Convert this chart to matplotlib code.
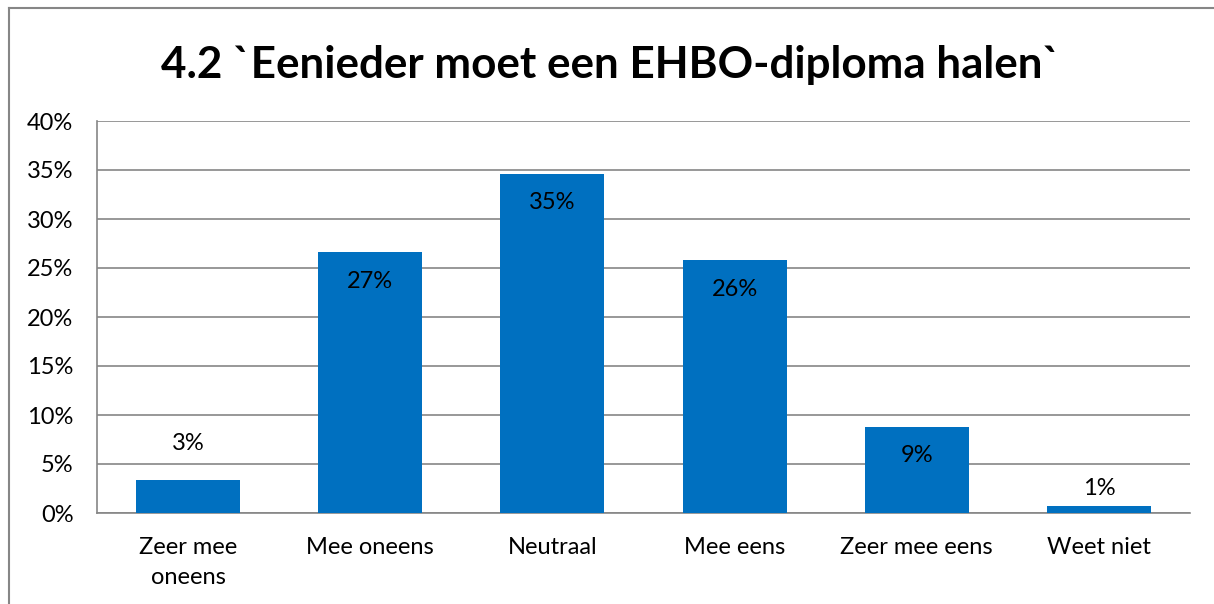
import matplotlib
matplotlib.use("Agg")
import matplotlib.pyplot as plt
from matplotlib.lines import Line2D
from matplotlib.ticker import PercentFormatter

categories = ["Zeer mee\noneens", "Mee oneens", "Neutraal", "Mee eens", "Zeer mee eens", "Weet niet"]
values = [3.4, 26.6, 34.6, 25.8, 8.8, 0.7]
labels = ["3%", "27%", "35%", "26%", "9%", "1%"]

plt.rcParams['font.family'] = ['Lato', 'DejaVu Sans']

fig = plt.figure(figsize=(12.14, 6.04), dpi=100)
ax = fig.add_axes([97/1214, 1 - 513/604, (1190 - 97)/1214, (513 - 121)/604])

grid_col = "#868686"
x = range(len(categories))
bars = ax.bar(x, values, width=0.57, color="#0070C0", zorder=3)

ax.set_ylim(0, 40)
ax.set_xlim(-0.5, len(categories) - 0.5)
ax.set_yticks(range(0, 41, 5))
ax.yaxis.set_major_formatter(PercentFormatter(decimals=0))
ax.grid(axis="y", color=grid_col, linewidth=1.2, zorder=0)
ax.set_xticks(list(x))
ax.set_xticklabels(categories, fontsize=17, linespacing=1.55)
ax.tick_params(axis="both", length=0, labelsize=17, colors="black")
ax.tick_params(axis="x", pad=17)
ax.tick_params(axis="y", pad=17)
for s in ["top", "right"]:
    ax.spines[s].set_visible(False)
for s in ["left", "bottom"]:
    ax.spines[s].set_color(grid_col)
    ax.spines[s].set_linewidth(1.2)

# data labels: inside end for large bars, above for small ones
for b, v, lab in zip(bars, values, labels):
    if v > 5:
        off = -29
    elif v > 2:
        off = 36
    else:
        off = 18
    ax.annotate(lab, (b.get_x() + b.get_width() / 2, v), xytext=(0, off * 0.72),
                textcoords="offset points", ha="center", va="center", fontsize=17)

fig.text(0.503, 1 - 65/604, "4.2 `Eenieder moet een EHBO-diploma halen`",
         ha="center", va="center", fontsize=31.7, fontweight="bold")

# outer chart frame
fig.add_artist(Line2D([9/1214, 9/1214], [0, 1 - 8/604], transform=fig.transFigure, color=grid_col, linewidth=1.5))
fig.add_artist(Line2D([9/1214, 1], [1 - 8/604, 1 - 8/604], transform=fig.transFigure, color=grid_col, linewidth=1.5))

fig.savefig("out.png", dpi=100)
